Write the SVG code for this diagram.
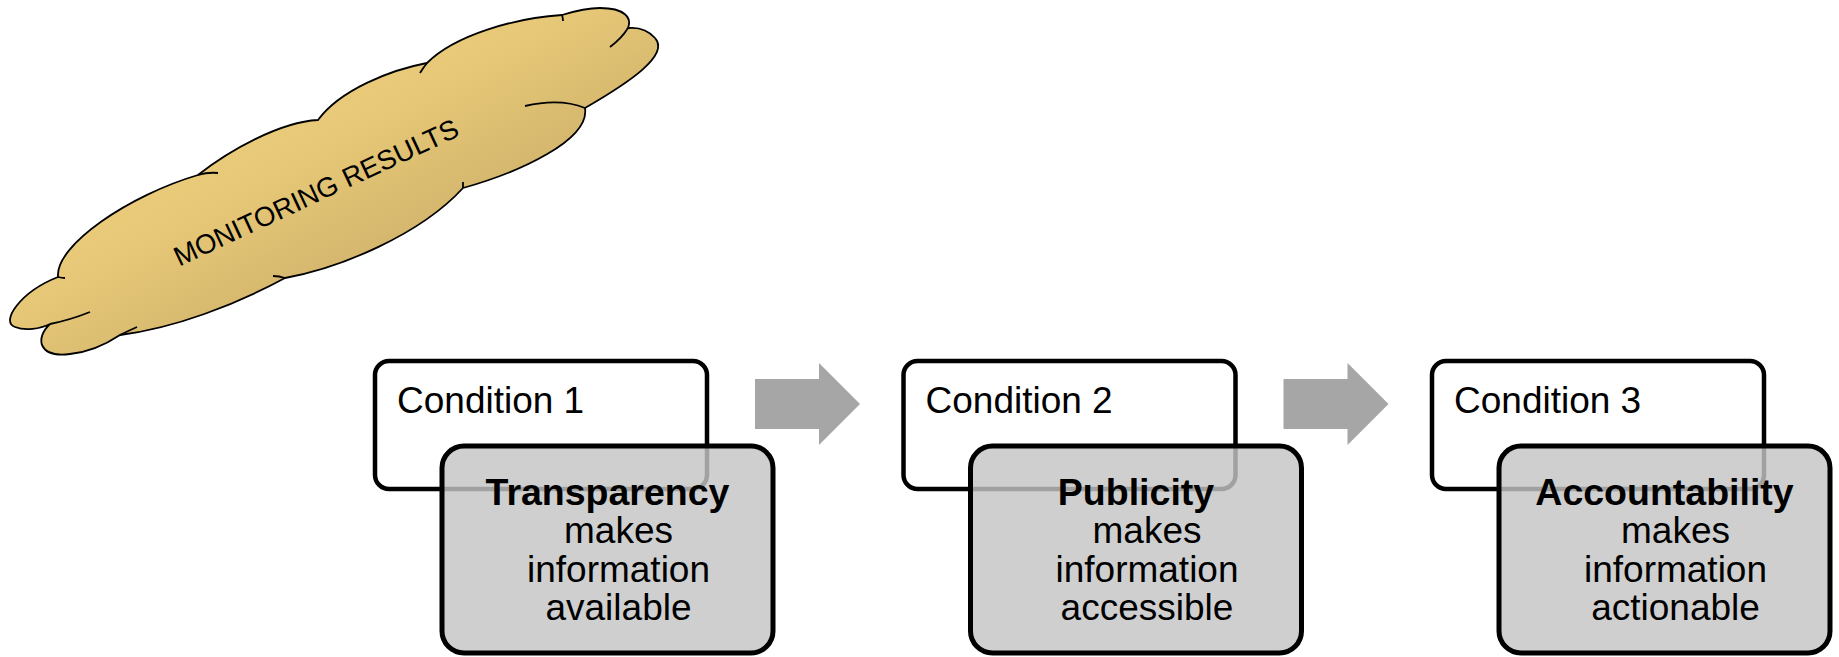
<svg xmlns="http://www.w3.org/2000/svg" width="1839" height="657" viewBox="0 0 1839 657">
<defs>
<linearGradient id="cloudGrad" x1="0" y1="0" x2="1" y2="1">
<stop offset="0" stop-color="#F8DC88"/>
<stop offset="0.45" stop-color="#E6C777"/>
<stop offset="1" stop-color="#B0965A"/>
</linearGradient>
<style>
.cond{fill:#FFFFFF;stroke:#000000;stroke-width:4.5}
.res{fill:#C4C4C4;fill-opacity:0.82;stroke:#000000;stroke-width:5}
.lbl{font-family:"Liberation Sans",Arial,sans-serif;font-size:37px;fill:#000000}
.b{font-weight:bold;text-anchor:middle;font-size:37.5px}
.r{text-anchor:middle}
.arrow{fill:#A6A6A6}
.cl{fill:none;stroke:#000000;stroke-width:1.8}
</style>
</defs>
<rect width="1839" height="657" fill="#FFFFFF"/>
<g id="cloud">
<path d="M198,175 C130,195 55,245 58,277 C20,292 0,322 15,327 C25,331 40,329 50,324 C35,338 38,358 70,354 C90,352 105,345 120,335 C175,328 235,305 285,278 C340,268 420,235 463,188 C520,172 590,140 585,108 C630,82 670,55 655,38 C648,30 638,27 628,28 C632,18 625,8 600,8 C588,8 575,11 562,15 C515,18 455,35 427,63 C390,70 340,90 318,120 C280,122 230,150 198,175 Z" fill="url(#cloudGrad)" stroke="#000000" stroke-width="1.8"/>
<path class="cl" d="M198,175 Q208,172 218,173 M58,277 Q62,278 65,278 M50,324 Q70,320 90,312 M120,335 Q128,331 137,327 M285,278 Q279,276 273,276 M463,188 Q463,185 463,182 M585,108 Q560,98 525,106 M628,28 Q622,38 610,47 M562,15 Q563,18 563,21 M427,63 Q423,68 420,73"/>
<text class="lbl" style="font-size:27.5px" text-anchor="middle" transform="translate(320,201) rotate(-25)">MONITORING RESULTS</text>
</g>
<g id="connectors">
<path class="arrow" d="M755,379 H819 V363 L860,404 L819,445 V429 H755 Z"/>
<path class="arrow" d="M1283.5,379 H1347.5 V363 L1388.5,404 L1347.5,445 V429 H1283.5 Z"/>
</g>
<g id="condition1">
<rect class="cond" x="375" y="361" width="332" height="128" rx="14"/>
<text class="lbl" x="397" y="413">Condition 1</text>
</g>
<g id="transparency">
<rect class="res" x="442" y="446" width="331" height="207" rx="22"/>
<text class="lbl b" x="607.5" y="505">Transparency</text>
<text class="lbl r" x="618.5" y="543">makes</text>
<text class="lbl r" x="618.5" y="582">information</text>
<text class="lbl r" x="618.5" y="620">available</text>
</g>
<g id="condition2">
<rect class="cond" x="903.5" y="361" width="332" height="128" rx="14"/>
<text class="lbl" x="925.5" y="413">Condition 2</text>
</g>
<g id="publicity">
<rect class="res" x="970.5" y="446" width="331" height="207" rx="22"/>
<text class="lbl b" x="1136" y="505">Publicity</text>
<text class="lbl r" x="1147" y="543">makes</text>
<text class="lbl r" x="1147" y="582">information</text>
<text class="lbl r" x="1147" y="620">accessible</text>
</g>
<g id="condition3">
<rect class="cond" x="1432" y="361" width="332" height="128" rx="14"/>
<text class="lbl" x="1454" y="413">Condition 3</text>
</g>
<g id="accountability">
<rect class="res" x="1499" y="446" width="331" height="207" rx="22"/>
<text class="lbl b" x="1664.5" y="505">Accountability</text>
<text class="lbl r" x="1675.5" y="543">makes</text>
<text class="lbl r" x="1675.5" y="582">information</text>
<text class="lbl r" x="1675.5" y="620">actionable</text>
</g>
</svg>
